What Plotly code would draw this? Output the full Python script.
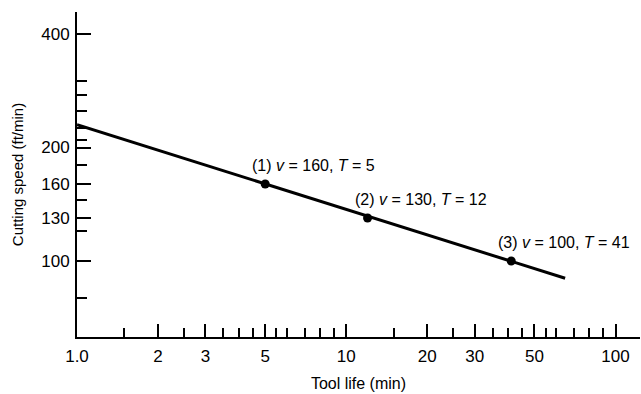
import math
import plotly.graph_objects as go

# ---- data ----
tool_life = [5, 12, 41]          # T (min)
cutting_speed = [160, 130, 100]  # v (ft/min)
point_labels = ["(1) <i>v</i> = 160, <i>T</i> = 5",
                "(2) <i>v</i> = 130, <i>T</i> = 12",
                "(3) <i>v</i> = 100, <i>T</i> = 41"]

line_T = [1.0, 65]     # ends of the drawn line
line_v = [230, 90]

x_major_vals = [1, 2, 3, 5, 10, 20, 30, 50, 100]
x_major_text = ["1.0", "2", "3", "5", "10", "20", "30", "50", "100"]
x_minor_vals = [1.5, 2.5, 3.5, 4, 4.5, 5.5, 6, 7, 8, 9,
                15, 25, 35, 40, 45, 55, 60, 70, 80, 90]

y_major_vals = [100, 130, 160, 200, 400]
y_major_text = ["100", "130", "160", "200", "400"]
y_minor_vals = [80, 120, 145, 180, 210, 225, 250, 275, 300]

FONT = "Liberation Sans, Arial, Helvetica, sans-serif"

fig = go.Figure()
fig.add_trace(go.Scatter(x=line_T, y=line_v, mode="lines",
                         line=dict(color="black", width=3),
                         hoverinfo="skip", showlegend=False))
fig.add_trace(go.Scatter(x=tool_life, y=cutting_speed, mode="markers",
                         marker=dict(color="black", size=9),
                         showlegend=False))

for t, v, lab in zip(tool_life, cutting_speed, point_labels):
    fig.add_annotation(x=math.log10(t), y=math.log10(v), text=lab,
                       showarrow=False, xanchor="left", yanchor="middle",
                       xshift=-15, yshift=19,
                       font=dict(family=FONT, size=16, color="black"))

fig.update_xaxes(type="log", range=[0, 2.091],
                 showline=True, linecolor="black", linewidth=2,
                 showgrid=False, zeroline=False,
                 tickmode="array", tickvals=x_major_vals, ticktext=x_major_text,
                 ticks="inside", ticklen=13, tickwidth=2, tickcolor="black",
                 ticklabelstandoff=3,
                 tickfont=dict(family=FONT, size=17, color="black"),
                 minor=dict(tickmode="array", tickvals=x_minor_vals,
                            ticks="inside", ticklen=9, tickwidth=1.5,
                            tickcolor="black", showgrid=False),
                 title=dict(text="Tool life (min)", standoff=12,
                            font=dict(family=FONT, size=16, color="black")))

fig.update_yaxes(type="log", range=[1.7984, 2.6605],
                 showline=True, linecolor="black", linewidth=2,
                 showgrid=False, zeroline=False,
                 tickmode="array", tickvals=y_major_vals, ticktext=y_major_text,
                 ticks="inside", ticklen=14, tickwidth=2, tickcolor="black",
                 ticklabelstandoff=2,
                 tickfont=dict(family=FONT, size=17, color="black"),
                 minor=dict(tickmode="array", tickvals=y_minor_vals,
                            ticks="inside", ticklen=10, tickwidth=2,
                            tickcolor="black", showgrid=False),
                 title=dict(text="Cutting speed (ft/min)", standoff=14,
                            font=dict(family=FONT, size=15, color="black")))

fig.update_layout(width=641, height=394,
                  margin=dict(l=77, r=1, t=12, b=57, autoexpand=False),
                  plot_bgcolor="white", paper_bgcolor="white",
                  showlegend=False)

fig.write_html("out.html")
